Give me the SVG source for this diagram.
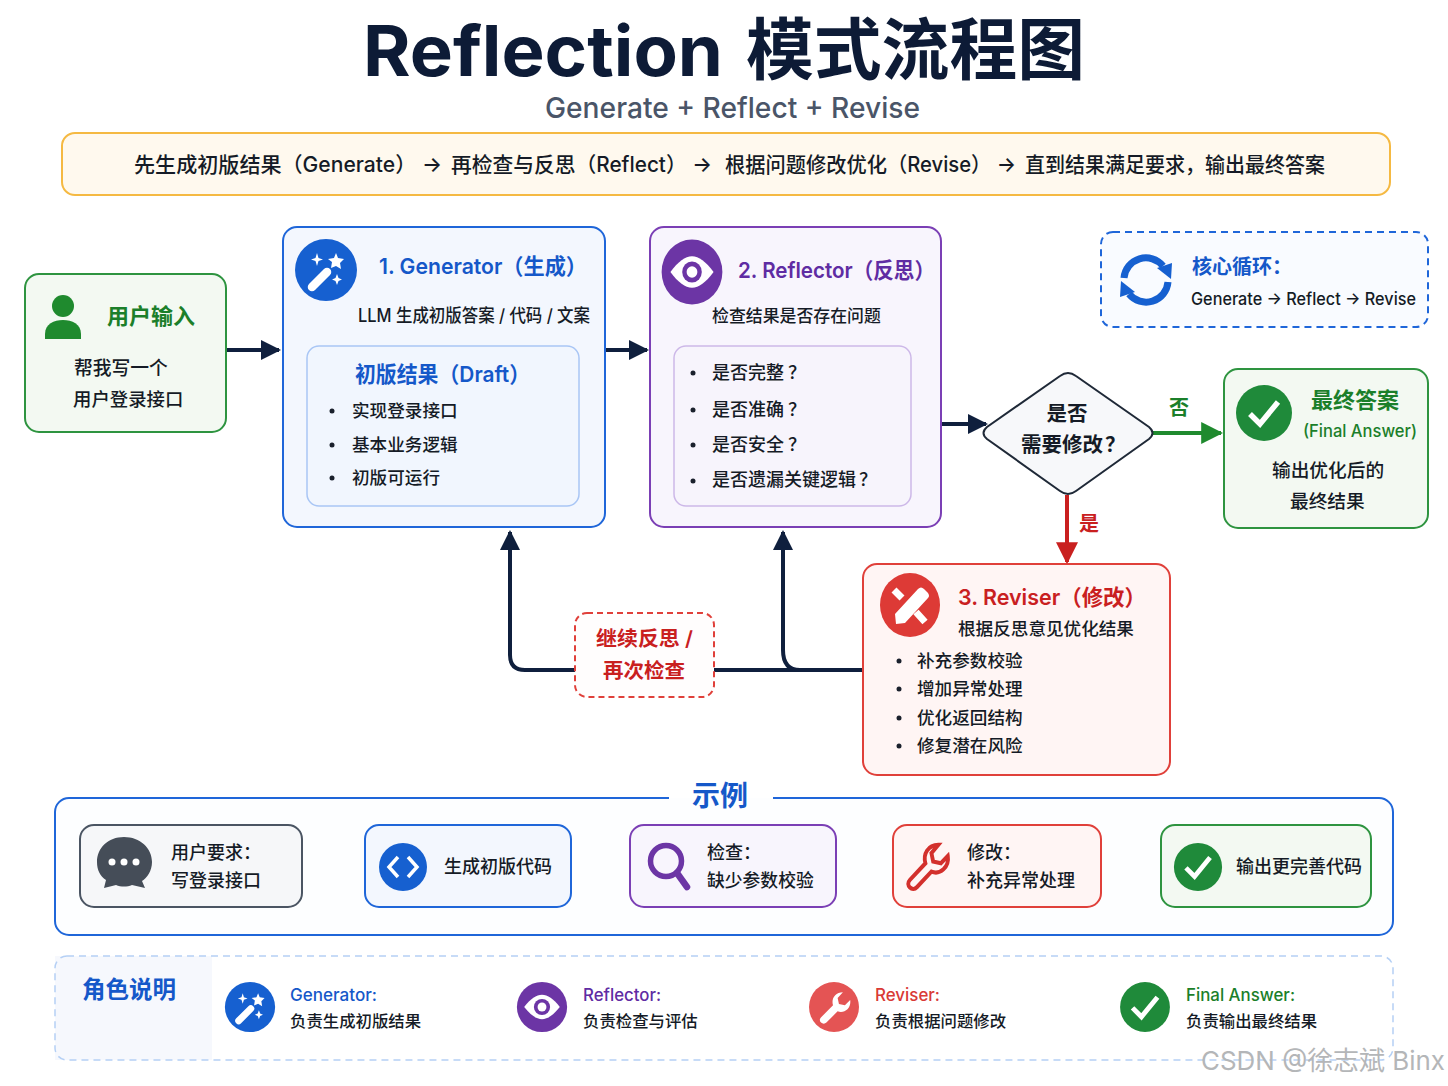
<svg xmlns="http://www.w3.org/2000/svg" width="1448" height="1086" viewBox="0 0 1448 1086">
<style>
text{font-family:"Inter","Noto Sans CJK SC",sans-serif;fill:#151b26;font-size:18px;font-weight:500}
.b{font-weight:700}.s{font-weight:600}.m{text-anchor:middle}
.blue{fill:#1558c9}.purple{fill:#5f2ca3}.red{fill:#c9201f}.green{fill:#1b7f2a}
.box{stroke-width:2}
.bg{fill:#f3f7fe;stroke:#1f66d9}.pg{fill:#f8f5fd;stroke:#7b3fb5}.rg{fill:#fff5f4;stroke:#e0403a}.gg{fill:#f3f9f2;stroke:#2e9440}.kg{fill:#f6f7f9;stroke:#4b5563}
.dot{fill:#1a202c}
.conn{fill:none;stroke:#0f1f3d;stroke-width:4}
.ban{font-size:21px}
</style>
<defs>
<marker id="an" viewBox="0 0 10 10" refX="9" refY="5" markerWidth="5" markerHeight="6.5" orient="auto" markerUnits="strokeWidth"><path d="M0,0L10,5L0,10Z" fill="#0f1f3d"/></marker>
<marker id="ag" viewBox="0 0 10 10" refX="9" refY="5" markerWidth="5.5" markerHeight="6.5" orient="auto" markerUnits="strokeWidth"><path d="M0,0L10,5L0,10Z" fill="#1f8a2e"/></marker>
<marker id="ar" viewBox="0 0 10 10" refX="9" refY="5" markerWidth="5.5" markerHeight="6.5" orient="auto" markerUnits="strokeWidth"><path d="M0,0L10,5L0,10Z" fill="#c9201f"/></marker>
<g id="wand"><circle r="31" fill="#1660d0"/><path d="M-14,17L1,2" stroke="#fff" stroke-width="8.5" stroke-linecap="round"/><path d="M10,-17L12,-12L18,-11L14,-7L15,-1L10,-4L5,-2L6,-8L2,-11L8,-12Z" fill="#fff"/><path d="M-9,-17L-7.500,-12L-3,-10.500L-7.500,-9L-9,-4L-10.500,-9L-15,-10.500L-10.500,-12Z" fill="#fff"/><path d="M11,4L12.500,8L16,9.500L12.500,11L11,15L9.500,11L6,9.500L9.500,8Z" fill="#fff"/></g>
<g id="eye"><circle r="31" fill="#6c35a5"/><path d="M-22,0C-14,-10 -7,-15 0,-15C7,-15 14,-10 22,0C14,10 7,15 0,15C-7,15 -14,10 -22,0Z" fill="#fff"/><circle r="10" fill="#6c35a5"/><circle r="5.500" fill="#fff"/></g>
<g id="check"><circle r="28" fill="#1f8a3a"/><path d="M-14,1L-4,11L14,-11" fill="none" stroke="#fff" stroke-width="5.500"/></g>
<path id="wrench" d="M-21,14L-3,-4C-6,-14 0,-24 12,-24L4,-15L6,-6L15,-4L23,-12C25,0 14,9 4,5L-13,22C-18,27 -27,20 -21,14Z"/>
</defs>
<rect width="1448" height="1086" fill="#fff"/>

<g id="header">
<text x="363" y="76" class="b" style="font-size:70px;fill:#0d1b36" textLength="360" lengthAdjust="spacingAndGlyphs">Reflection</text>
<text x="746" y="74" class="b" style="font-size:67px;fill:#0d1b36" textLength="339" lengthAdjust="spacingAndGlyphs">模式流程图</text>
<text x="545" y="118" style="font-size:29px;fill:#4a5568" textLength="375" lengthAdjust="spacingAndGlyphs">Generate + Reflect + Revise</text>
</g>
<g id="banner">
<rect x="62" y="133" width="1328" height="62" rx="13" fill="#fff9ee" stroke="#f5b942" stroke-width="2"/>
<text x="134" y="172" class="ban" textLength="308" lengthAdjust="spacingAndGlyphs">先生成初版结果（Generate） →</text>
<text x="451" y="172" class="ban" textLength="261" lengthAdjust="spacingAndGlyphs">再检查与反思（Reflect） →</text>
<text x="725" y="172" class="ban" textLength="291" lengthAdjust="spacingAndGlyphs">根据问题修改优化（Revise） →</text>
<text x="1025" y="172" class="ban" textLength="300" lengthAdjust="spacingAndGlyphs">直到结果满足要求，输出最终答案</text>
</g>

<g id="connectors">
<path class="conn" d="M227,350H279" marker-end="url(#an)"/>
<path class="conn" d="M605,350H647" marker-end="url(#an)"/>
<path class="conn" d="M941,424H986" marker-end="url(#an)"/>
<path class="conn" style="stroke:#1f8a2e" d="M1153,433H1221" marker-end="url(#ag)"/>
<path class="conn" style="stroke:#c9201f" d="M1067,495V562" marker-end="url(#ar)"/>
<path class="conn" d="M862,670H525Q510,670 510,655V532" marker-end="url(#an)"/>
<path class="conn" d="M800,670Q783,670 783,650V532" marker-end="url(#an)"/>
<path class="conn" d="M310,865H358" marker-end="url(#an)"/>
<path class="conn" d="M578,865H625" marker-end="url(#an)"/>
<path class="conn" d="M842,865H887" marker-end="url(#an)"/>
<path class="conn" d="M1108,865H1155" marker-end="url(#an)"/>
</g>

<g id="user-input">
<rect class="box gg" x="25" y="274" width="201" height="158" rx="14"/>
<circle cx="63" cy="306" r="11" fill="#1f8a2e"/><path d="M45,339V334C45,324 54,320 63,320C72,320 81,324 81,334V339Z" fill="#1f8a2e"/>
<text x="107" y="324" class="b green" style="font-size:22px">用户输入</text>
<text x="74" y="375" style="font-size:18.8px">帮我写一个</text>
<text x="73" y="406" style="font-size:18.4px">用户登录接口</text>
</g>

<g id="generator">
<rect class="box bg" x="283" y="227" width="322" height="300" rx="14"/>
<use href="#wand" transform="translate(326,270)"/>
<text x="379" y="274" class="s blue" style="font-size:22px" textLength="208" lengthAdjust="spacingAndGlyphs">1. Generator（生成）</text>
<text x="358" y="322" textLength="232" lengthAdjust="spacingAndGlyphs">LLM 生成初版答案 / 代码 / 文案</text>
<rect x="307" y="346" width="272" height="160" rx="12" fill="#f1f6fe" stroke="#a9c6f5" stroke-width="1.5"/>
<text x="355" y="382" class="s blue" style="font-size:22px" textLength="175" lengthAdjust="spacingAndGlyphs">初版结果（Draft）</text>
<circle class="dot" cx="332" cy="411" r="2.500"/><text x="352" y="417" style="font-size:17.6px">实现登录接口</text>
<circle class="dot" cx="332" cy="445" r="2.500"/><text x="352" y="451" style="font-size:17.6px">基本业务逻辑</text>
<circle class="dot" cx="332" cy="478" r="2.500"/><text x="352" y="484" style="font-size:17.6px">初版可运行</text>
</g>

<g id="reflector">
<rect class="box pg" x="650" y="227" width="291" height="300" rx="14"/>
<use href="#eye" transform="translate(692,272) scale(.98,1.05)"/>
<text x="738" y="278" class="s purple" style="font-size:22px" textLength="197" lengthAdjust="spacingAndGlyphs">2. Reflector（反思）</text>
<text x="712" y="322" style="font-size:16.9px">检查结果是否存在问题</text>
<rect x="674" y="346" width="237" height="160" rx="12" fill="#f7f4fc" stroke="#cdb8e8" stroke-width="1.5"/>
<circle class="dot" cx="693" cy="373" r="2.500"/><text x="712" y="379">是否完整<tspan dx="4">？</tspan></text>
<circle class="dot" cx="693" cy="410" r="2.500"/><text x="712" y="416">是否准确<tspan dx="4">？</tspan></text>
<circle class="dot" cx="693" cy="445" r="2.500"/><text x="712" y="451">是否安全<tspan dx="4">？</tspan></text>
<circle class="dot" cx="693" cy="481" r="2.500"/><text x="712" y="486">是否遗漏关键逻辑<tspan dx="3">？</tspan></text>
</g>

<g id="core-loop">
<rect x="1101" y="232" width="327" height="95" rx="12" fill="#f9fbff" stroke="#1f66d9" stroke-width="2" stroke-dasharray="7 5"/>
<g transform="translate(1146,280)" fill="#1660d0"><path d="M-22,-2A22,22 0 0 1 17,-14" fill="none" stroke="#1660d0" stroke-width="7"/><path d="M11,-12L26,-17L25,-1Z"/><path d="M22,2A22,22 0 0 1 -17,14" fill="none" stroke="#1660d0" stroke-width="7"/><path d="M-11,12L-26,17L-25,1Z"/></g>
<text x="1192" y="274" class="s blue" style="font-size:20px" textLength="100" lengthAdjust="spacingAndGlyphs">核心循环：</text>
<text x="1191" y="305" style="font-size:17px" textLength="225" lengthAdjust="spacingAndGlyphs">Generate → Reflect → Revise</text>
</g>

<g id="decision">
<path d="M1060,376Q1068,370 1076,376L1149,427Q1156,433 1149,439L1076,491Q1068,497 1060,491L987,439Q980,433 987,427Z" fill="#f7f8fa" stroke="#1f2937" stroke-width="2"/>
<text x="1067" y="421" class="s m" style="font-size:20.5px">是否</text>
<text x="1021" y="452" class="s" style="font-size:20.5px">需要修改<tspan dx="2">？</tspan></text>
</g>
<text id="label-no" x="1169" y="415" class="s green" style="font-size:20px">否</text>
<text id="label-yes" x="1079" y="531" class="s red" style="font-size:20px">是</text>

<g id="final-answer">
<rect class="box gg" x="1224" y="369" width="204" height="159" rx="14"/>
<use href="#check" transform="translate(1264,413)"/>
<text x="1311" y="408" class="b green" style="font-size:22px">最终答案</text>
<text x="1303" y="437" class="green" style="font-size:17px" textLength="114" lengthAdjust="spacingAndGlyphs">(Final Answer)</text>
<text x="1272" y="477" style="font-size:18.7px">输出优化后的</text>
<text x="1290" y="508" style="font-size:18.7px">最终结果</text>
</g>

<g id="reviser">
<rect class="box rg" x="863" y="564" width="307" height="211" rx="14"/>
<ellipse cx="910" cy="605" rx="30" ry="32" fill="#dd3a36"/>
<g transform="translate(910,605)"><path d="M-14,19L-15,9L8,-16Q11,-19 14,-16L18,-12Q20,-9 18,-7L-5,18Z" fill="#fff"/><path d="M-16,-15L-8,-7M6,7L15,17" stroke="#fff" stroke-width="7"/></g>
<text x="958" y="605" class="s red" style="font-size:22px" textLength="188" lengthAdjust="spacingAndGlyphs">3. Reviser（修改）</text>
<text x="958" y="635" style="font-size:17.6px">根据反思意见优化结果</text>
<circle class="dot" cx="899" cy="661" r="2.500"/><text x="917" y="667" style="font-size:17.6px">补充参数校验</text>
<circle class="dot" cx="899" cy="689" r="2.500"/><text x="917" y="695" style="font-size:17.6px">增加异常处理</text>
<circle class="dot" cx="899" cy="718" r="2.500"/><text x="917" y="724" style="font-size:17.6px">优化返回结构</text>
<circle class="dot" cx="899" cy="746" r="2.500"/><text x="917" y="752" style="font-size:17.6px">修复潜在风险</text>
</g>

<g id="loop-label">
<rect x="575" y="613" width="139" height="84" rx="12" fill="#fffdfd" stroke="#e0403a" stroke-width="2" stroke-dasharray="6 4"/>
<text x="596" y="646" class="s red" style="font-size:20.5px" textLength="97" lengthAdjust="spacingAndGlyphs">继续反思 /</text>
<text x="603" y="678" class="s red" style="font-size:20.5px">再次检查</text>
</g>

<g id="example">
<path d="M669,798H69A14,14 0 0 0 55,812V921A14,14 0 0 0 69,935H1379A14,14 0 0 0 1393,921V812A14,14 0 0 0 1379,798H773" fill="#fdfeff" stroke="#1f66d9" stroke-width="2"/>
<text x="692" y="806" class="b blue" style="font-size:28px">示例</text>
</g>
<g id="ex-user">
<rect class="box kg" x="80" y="825" width="222" height="82" rx="14"/>
<path d="M124,837C140,837 152,848 152,862C152,871 147,878 142,881L145,888L132,885C127,887 121,887 116,885L104,888L106,880C100,876 97,870 97,862C97,848 108,837 124,837Z" fill="#454d58"/>
<circle cx="112" cy="862" r="3.500" fill="#fff"/><circle cx="124" cy="862" r="3.500" fill="#fff"/><circle cx="136" cy="862" r="3.500" fill="#fff"/>
<text x="171" y="859">用户要求：</text><text x="171" y="887">写登录接口</text>
</g>
<g id="ex-generate">
<rect class="box bg" x="365" y="825" width="206" height="82" rx="14"/>
<circle cx="403" cy="867" r="24" fill="#1660d0"/><path d="M398,857L389,867L398,877M408,857L417,867L408,877" fill="none" stroke="#fff" stroke-width="3.500"/>
<text x="444" y="873">生成初版代码</text>
</g>
<g id="ex-check">
<rect class="box pg" x="630" y="825" width="206" height="82" rx="14"/>
<circle cx="666" cy="861" r="15.500" fill="none" stroke="#6c35a5" stroke-width="5.500"/><path d="M677,873L687,887" stroke="#6c35a5" stroke-width="6.500" stroke-linecap="round"/>
<text x="707" y="859">检查：</text><text x="707" y="887" style="font-size:17.8px">缺少参数校验</text>
</g>
<g id="ex-revise">
<rect class="box rg" x="893" y="825" width="208" height="82" rx="14"/>
<use href="#wrench" transform="translate(928,867) scale(.86,.92)" fill="#fff5f4" stroke="#d3302c" stroke-width="4.500"/>
<text x="967" y="859">修改：</text><text x="967" y="887">补充异常处理</text>
</g>
<g id="ex-output">
<rect class="box gg" x="1161" y="825" width="210" height="82" rx="14"/>
<use href="#check" transform="translate(1198,867) scale(.86)"/>
<text x="1236" y="873">输出更完善代码</text>
</g>

<g id="legend">
<rect x="55" y="956" width="157" height="104" fill="#f6f8fd"/>
<rect x="55" y="956" width="1338" height="104" rx="12" fill="none" stroke="#b5d0f5" stroke-width="1.500" stroke-dasharray="7 5"/>
<text x="82" y="998" class="s blue" style="font-size:23.5px">角色说明</text>
</g>
<g id="legend-generator">
<use href="#wand" transform="translate(250,1007) scale(.81)"/>
<text x="290" y="1001" class="blue" style="font-size:17px" textLength="87" lengthAdjust="spacingAndGlyphs">Generator:</text>
<text x="290" y="1027" style="font-size:16.4px">负责生成初版结果</text>
</g>
<g id="legend-reflector">
<use href="#eye" transform="translate(542,1007) scale(.81)"/>
<text x="583" y="1001" class="purple" style="font-size:17px" textLength="78" lengthAdjust="spacingAndGlyphs">Reflector:</text>
<text x="583" y="1027" style="font-size:16.4px">负责检查与评估</text>
</g>
<g id="legend-reviser">
<circle cx="834" cy="1007" r="25" fill="#e45454"/>
<use href="#wrench" transform="translate(835,1008) scale(.66)" fill="#fff"/>
<text x="875" y="1001" class="red" style="font-size:17px;fill:#d93a36" textLength="65" lengthAdjust="spacingAndGlyphs">Reviser:</text>
<text x="875" y="1027" style="font-size:16.4px">负责根据问题修改</text>
</g>
<g id="legend-final">
<use href="#check" transform="translate(1145,1007) scale(.89)"/>
<text x="1186" y="1001" class="green" style="font-size:17px" textLength="109" lengthAdjust="spacingAndGlyphs">Final Answer:</text>
<text x="1186" y="1027" style="font-size:16.4px">负责输出最终结果</text>
</g>
<text id="watermark" x="1201" y="1070" style="font-size:26px;fill:#b4b6b8;font-weight:400" textLength="244" lengthAdjust="spacingAndGlyphs">CSDN @徐志斌 Binx</text>
</svg>
